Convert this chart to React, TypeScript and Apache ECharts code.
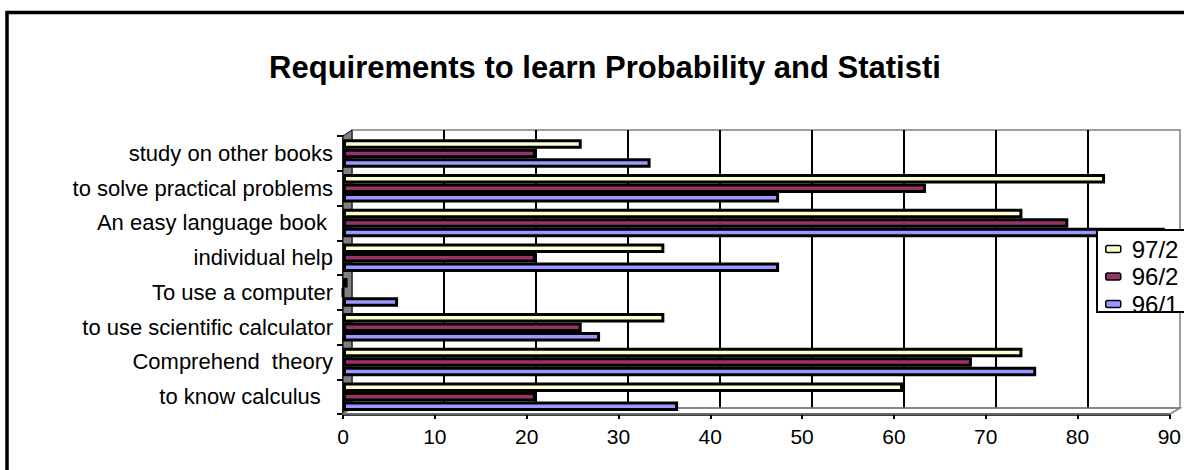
import React, { useEffect, useRef } from "react";
import * as echarts from "echarts";

const categories = [
  "to know calculus  ",
  "Comprehend  theory",
  "to use scientific calculator",
  "To use a computer",
  "individual help",
  "An easy language book ",
  "to solve practical problems",
  "study on other books",
];
const seriesNames = ["97/2", "96/2", "96/1"];
const values972 = [61, 74, 35, 0.5, 35, 74, 83, 26];
const values962 = [21, 68.5, 26, 0, 21, 79, 63.5, 21];
const values961 = [36.5, 75.5, 28, 6, 47.5, 89.5, 47.5, 33.5];
const xTicks = { min: 0, max: 90, interval: 10 };
const colors = ["#FFFFCC", "#993366", "#9999FF"];

const FONT = "'Liberation Sans', Arial, sans-serif";

export default function App() {
  const ref = useRef<HTMLDivElement>(null);
  useEffect(() => {
    if (!ref.current) return;
    const chart = echarts.init(ref.current, undefined, { renderer: "svg" });
    const dataSets = [values972, values962, values961];
    const option: any = {
      animation: false,
      backgroundColor: "#ffffff",
      textStyle: { fontFamily: FONT },
      title: {
        text: "Requirements to learn Probability and Statisti",
        left: 600,
        textAlign: "center",
        top: 47,
        textStyle: { fontFamily: FONT, fontSize: 31, fontWeight: "bold", color: "#000" },
      },
      legend: {
        orient: "vertical",
        left: 1105,
        top: 237,
        padding: 0,
        itemWidth: 15,
        itemHeight: 7,
        itemGap: 3.5,
        z: 4,
        data: seriesNames,
        textStyle: { fontFamily: FONT, fontSize: 24, color: "#000", padding: [0, 0, 0, 6] },
        itemStyle: { borderColor: "#000", borderWidth: 1.5 },
      },
      grid: [
        { left: 343, right: 14, top: 136, bottom: 56 },
        {
          left: 352, right: 4, top: 130, bottom: 62,
          show: true, borderColor: "#808080", borderWidth: 1.5, backgroundColor: "transparent",
        },
      ],
      xAxis: [
        {
          type: "value",
          gridIndex: 0,
          min: xTicks.min,
          max: xTicks.max,
          interval: xTicks.interval,
          axisLine: { show: true, lineStyle: { color: "#000", width: 2.5 } },
          axisTick: { show: true, length: 5, lineStyle: { color: "#000", width: 2 } },
          splitLine: { show: false },
          axisLabel: { fontFamily: FONT, fontSize: 21, color: "#000", margin: 12 },
        },
        {
          type: "value",
          gridIndex: 1,
          min: xTicks.min,
          max: xTicks.max,
          interval: xTicks.interval,
          axisLine: { show: false },
          axisTick: { show: false },
          axisLabel: { show: false },
          splitLine: {
            show: true,
            showMinLine: false,
            showMaxLine: false,
            lineStyle: { color: "#000", width: 2 },
          },
        },
      ],
      yAxis: [
        {
          type: "category",
          gridIndex: 0,
          data: categories,
          axisLine: { show: true, lineStyle: { color: "#000", width: 2.5 } },
          axisTick: { show: true, length: 6, lineStyle: { color: "#000", width: 2 } },
          axisLabel: {
            fontFamily: FONT,
            fontSize: 22,
            color: "#000",
            margin: 10,
            padding: [8, 0, 0, 0],
          },
          splitLine: { show: false },
        },
        {
          type: "value",
          gridIndex: 1,
          min: 0,
          max: 1,
          show: false,
          splitLine: { show: false },
        },
      ],
      series: seriesNames.map((name, i) => ({
        name,
        type: "bar",
        xAxisIndex: 0,
        yAxisIndex: 0,
        barWidth: 9.5,
        barGap: "0%",
        z: 2,
        data: dataSets[i],
        itemStyle: { color: colors[i], borderColor: "#000", borderWidth: 3 },
      })),
      graphic: [
        {
          type: "polygon",
          z: 1,
          shape: { points: [[343, 136], [352, 130], [352, 408], [343, 414]] },
          style: { fill: "#808080", stroke: "#000", lineWidth: 1 },
        },
        {
          type: "polygon",
          z: 1,
          shape: { points: [[343, 414], [352, 408], [1180, 408], [1170, 414]] },
          style: { fill: "none", stroke: "#808080", lineWidth: 1.5 },
        },
        {
          type: "rect",
          z: 3,
          shape: { x: 1097, y: 230, width: 100, height: 82 },
          style: { fill: "#fff" },
        },
        {
          type: "rect",
          z: 5,
          shape: { x: 1099, y: 313, width: 78, height: 8 },
          style: { fill: "#fff" },
        },
        {
          type: "rect",
          z: 6,
          shape: { x: 1097, y: 230, width: 100, height: 82 },
          style: { fill: "none", stroke: "#000", lineWidth: 2 },
        },
        {
          type: "rect",
          z: 6,
          shape: { x: 7, y: 12.5, width: 1400, height: 700 },
          style: { fill: "none", stroke: "#000", lineWidth: 3.5 },
        },
      ],
    };
    chart.setOption(option);
    return () => chart.dispose();
  }, []);
  return (
    <div
      ref={ref}
      style={{ position: "absolute", left: 0, top: 0, width: 1184, height: 470 }}
    />
  );
}
